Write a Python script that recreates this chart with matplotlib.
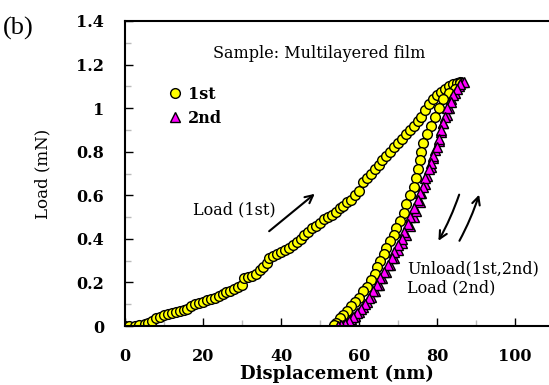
import numpy as np
import matplotlib.pyplot as plt
from matplotlib.ticker import MultipleLocator

plt.rcParams['font.family'] = ['DejaVu Serif']

# 1st cycle, loading
load1_x = [0, 1, 2.5, 3.5, 5, 6, 7, 8, 9, 10, 11, 12, 13, 14, 15, 16, 17, 18, 19, 20,
           21, 22, 23, 24, 25, 26, 27, 28, 29, 30, 30.5, 31.5, 32.5, 33.5, 34.5, 35.5,
           36.5, 37, 38, 39, 40, 41, 42, 43, 44, 45, 46, 47, 48, 49, 50, 51, 52, 53,
           54, 55, 56, 57, 58, 59, 60, 61, 62, 63, 64, 65, 66, 67, 68, 69, 70, 71, 72,
           73, 74, 75, 76, 77, 78, 79, 80, 81, 82, 83, 84, 85, 86]
load1_y = [0, 0, 0, 0.003, 0.01, 0.015, 0.025, 0.035, 0.04, 0.05, 0.055, 0.06, 0.065,
           0.07, 0.075, 0.08, 0.09, 0.1, 0.105, 0.11, 0.12, 0.125, 0.13, 0.14, 0.145,
           0.155, 0.16, 0.17, 0.18, 0.19, 0.22, 0.225, 0.23, 0.24, 0.255, 0.27, 0.29,
           0.31, 0.32, 0.33, 0.34, 0.35, 0.36, 0.37, 0.385, 0.4, 0.42, 0.43, 0.45, 0.46,
           0.475, 0.49, 0.5, 0.51, 0.525, 0.54, 0.55, 0.57, 0.58, 0.6, 0.62, 0.66, 0.68,
           0.7, 0.72, 0.74, 0.76, 0.78, 0.8, 0.82, 0.84, 0.86, 0.88, 0.9, 0.92, 0.94,
           0.96, 0.99, 1.02, 1.04, 1.06, 1.075, 1.09, 1.1, 1.11, 1.115, 1.12]

# 1st cycle, unloading
unload1_x = [86, 84.5, 83, 81.5, 80.5, 79.5, 78.5, 77.5, 76.5, 76, 75.5, 75, 74.5, 74,
             73, 72, 71.5, 70.5, 69.5, 69, 68, 67, 66.5, 65.5, 64.5, 64, 63, 62, 61, 60,
             59, 58, 57, 56, 55, 54, 53.5]
unload1_y = [1.115, 1.09, 1.07, 1.04, 1.0, 0.96, 0.92, 0.88, 0.84, 0.8, 0.76, 0.72, 0.68,
             0.64, 0.6, 0.56, 0.52, 0.48, 0.45, 0.42, 0.39, 0.36, 0.33, 0.3, 0.27, 0.24,
             0.21, 0.18, 0.16, 0.13, 0.11, 0.09, 0.07, 0.05, 0.035, 0.015, 0.005]

# 2nd cycle, loading and unloading
load2_x = [55, 56, 57, 58, 59, 60, 61, 62, 63, 64, 65, 66, 67, 68, 69, 70, 71, 72, 73,
           74, 74.5, 75.5, 76, 77, 77.5, 78.5, 79, 79.5, 80.5, 81, 81.5, 82.5, 83, 83.5,
           84.5, 85.5, 86.5]
load2_y = [0, 0.005, 0.015, 0.03, 0.045, 0.065, 0.085, 0.11, 0.135, 0.16, 0.19, 0.22,
           0.25, 0.28, 0.31, 0.35, 0.38, 0.42, 0.46, 0.5, 0.53, 0.57, 0.61, 0.65, 0.69,
           0.73, 0.77, 0.81, 0.85, 0.89, 0.93, 0.97, 1.0, 1.04, 1.07, 1.1, 1.12]
unload2_x = [87, 86, 85, 84, 83.5, 82.5, 82, 81.5, 81, 80.5, 80, 79, 78.5, 78, 77, 76.5,
             75.5, 75, 74, 73, 72.5, 71.5, 71, 70, 69, 68.5, 67.5, 66.5, 65.5, 64.5, 63.5,
             62.5, 61.5, 60.5, 59.5, 58.5, 57.5, 56.5, 55.5, 54.5]
unload2_y = [1.12, 1.11, 1.09, 1.06, 1.03, 1.0, 0.96, 0.93, 0.9, 0.86, 0.82, 0.78, 0.75,
             0.72, 0.68, 0.64, 0.61, 0.58, 0.54, 0.5, 0.47, 0.43, 0.4, 0.37, 0.34, 0.31,
             0.28, 0.25, 0.22, 0.19, 0.16, 0.13, 0.1, 0.08, 0.06, 0.04, 0.025, 0.01,
             0.003, 0]

ytick_labels = ['0', '0.2', '0.4', '0.6', '0.8', '1', '1.2', '1.4']

fig = plt.figure(figsize=(5.49, 3.85), dpi=100)
ax = fig.add_axes([0.2277, 0.1532, 0.7723, 0.7923])

ax.plot(load1_x, load1_y, 'o', ms=7, mfc='#ffff00', mec='black', mew=1.0, label='1st')
ax.plot(unload1_x, unload1_y, 'o', ms=7, mfc='#ffff00', mec='black', mew=1.0)
ax.plot(load2_x, load2_y, '^', ms=7.5, mfc='#ff00ff', mec='black', mew=1.0, label='2nd')
ax.plot(unload2_x, unload2_y, '^', ms=7.5, mfc='#ff00ff', mec='black', mew=1.0)

ax.set_xlim(0, 108.7)
ax.set_ylim(0, 1.4)
ax.xaxis.set_major_locator(MultipleLocator(20))
ax.xaxis.set_minor_locator(MultipleLocator(10))
ax.yaxis.set_minor_locator(MultipleLocator(0.1))
ax.set_yticks(np.arange(0, 1.41, 0.2))
ax.set_yticklabels(ytick_labels)
ax.tick_params(which='both', direction='in', top=False, right=False, labelsize=11.5,
               width=1)
ax.tick_params(axis='y', pad=15)
ax.tick_params(axis='x', pad=16)
ax.tick_params(which='major', length=6)
ax.tick_params(which='minor', length=4, color='#bbbbbb')
for lab in ax.get_xticklabels() + ax.get_yticklabels():
    lab.set_fontweight('bold')
for s in ['left', 'bottom', 'top']:
    ax.spines[s].set_linewidth(1.5)
ax.spines['right'].set_visible(False)
ax.patch.set_alpha(0)

ax.set_xlabel('Displacement (nm)', fontsize=13, fontweight='bold', labelpad=0)
ax.set_ylabel('Load (mN)', fontsize=12, labelpad=18)

ax.text(22.6, 1.25, 'Sample: Multilayered film', fontsize=11.5, va='center')
ax.text(17.5, 0.535, 'Load (1st)', fontsize=11.5, va='center')
ax.text(72.3, 0.26, 'Unload(1st,2nd)', fontsize=11.5, va='center')
ax.text(72.3, 0.174, 'Load (2nd)', fontsize=11.5, va='center')

arw = dict(arrowstyle='->', color='black', lw=1.5, mutation_scale=14)
ax.annotate('', xy=(49.2, 0.615), xytext=(36.4, 0.427), arrowprops=arw)
ax.annotate('', xy=(80, 0.38), xytext=(85.9, 0.615),
            arrowprops=dict(arw, connectionstyle='arc3,rad=-0.05'))
ax.annotate('', xy=(91, 0.615), xytext=(85.4, 0.38),
            arrowprops=dict(arw, connectionstyle='arc3,rad=0.05'))

ax.legend(loc='upper left', bbox_to_anchor=(0.065, 0.835), frameon=False,
          handletextpad=0.3, labelspacing=0.45, handlelength=1.0,
          prop={'weight': 'bold', 'size': 11.5})

fig.text(0.005, 0.925, '(b)', fontsize=19, va='center', family='Liberation Serif')

fig.savefig('out.png', dpi=100)
